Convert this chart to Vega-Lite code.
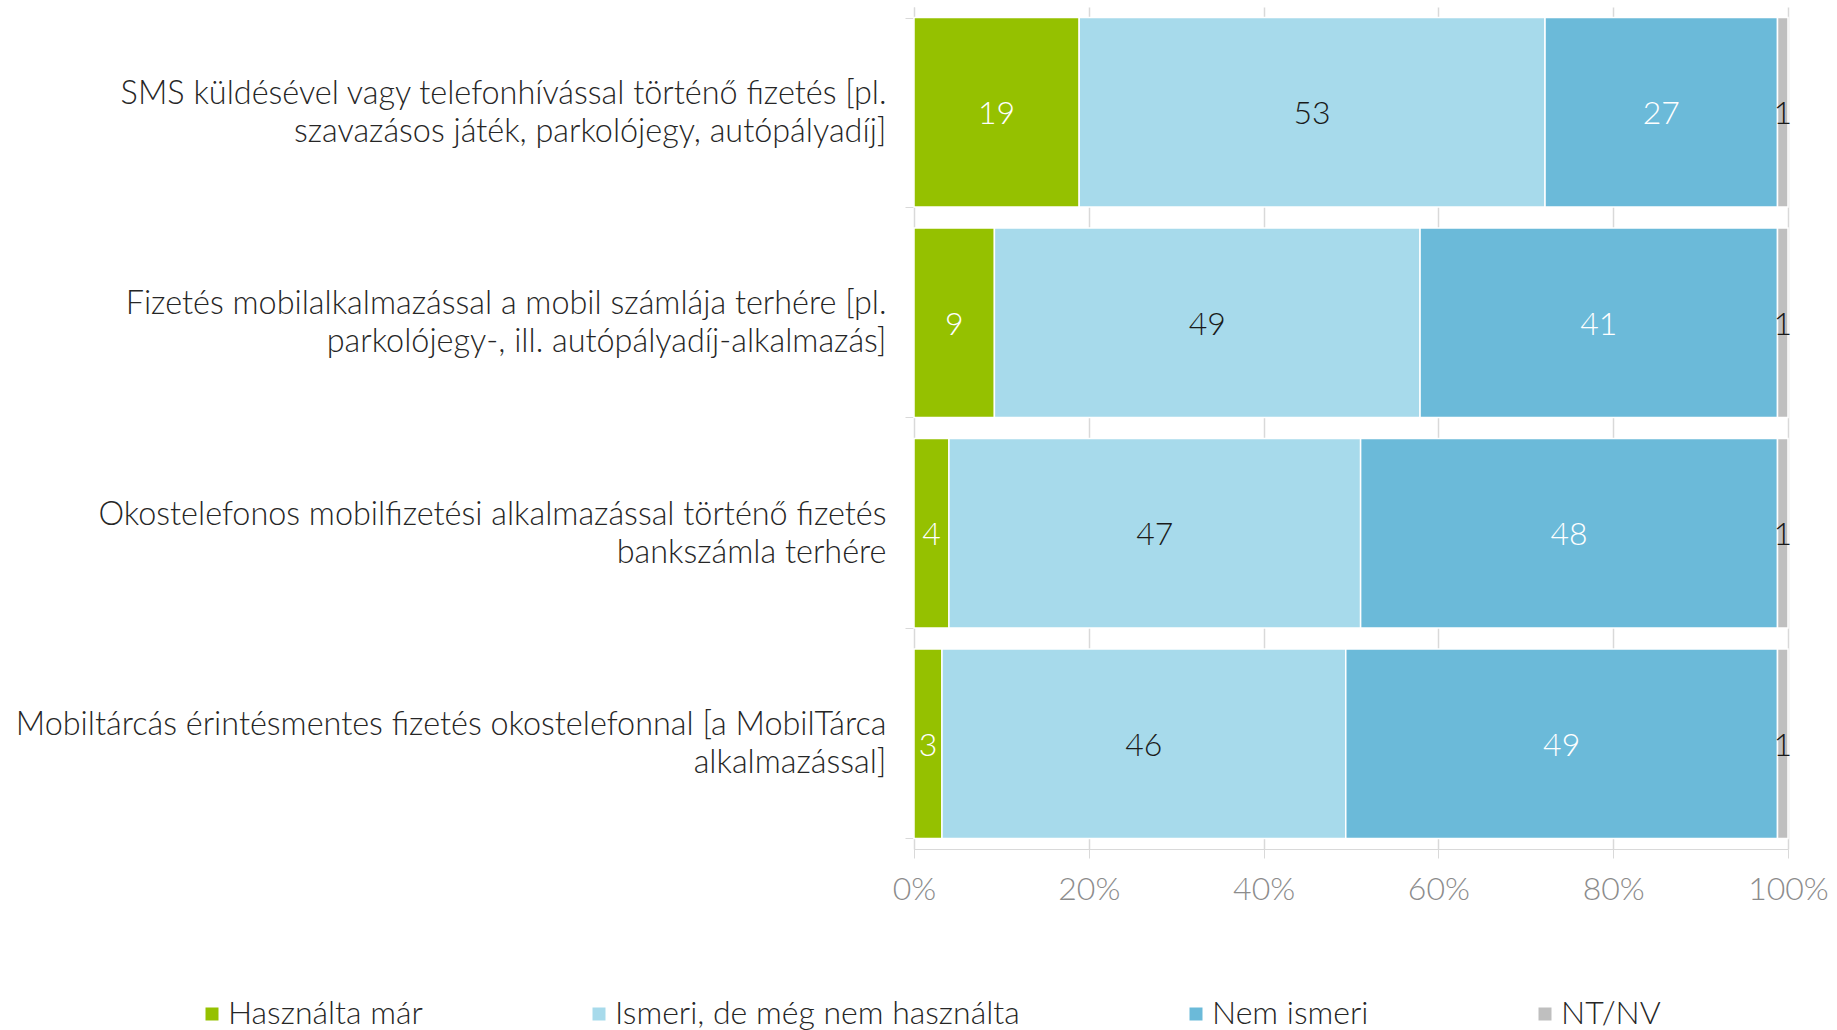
{
  "$schema": "https://vega.github.io/schema/vega-lite/v6.json",
  "width": 874,
  "height": 842,
  "autosize": {"type": "none"},
  "padding": {"left": 914, "top": 7, "right": 49, "bottom": 181},
  "background": "white",
  "config": {"font": "Lato", "view": {"stroke": null}},
  "data": {
    "values": [
      {"q": "SMS küldésével vagy telefonhívással történő fizetés [pl.|szavazásos játék, parkolójegy, autópályadíj]", "cat": "Használta már", "k": 1, "v": 18.9},
      {"q": "SMS küldésével vagy telefonhívással történő fizetés [pl.|szavazásos játék, parkolójegy, autópályadíj]", "cat": "Ismeri, de még nem használta", "k": 2, "v": 53.3},
      {"q": "SMS küldésével vagy telefonhívással történő fizetés [pl.|szavazásos játék, parkolójegy, autópályadíj]", "cat": "Nem ismeri", "k": 3, "v": 26.6},
      {"q": "SMS küldésével vagy telefonhívással történő fizetés [pl.|szavazásos játék, parkolójegy, autópályadíj]", "cat": "NT/NV", "k": 4, "v": 1.2},
      {"q": "Fizetés mobilalkalmazással a mobil számlája terhére [pl.|parkolójegy-, ill. autópályadíj-alkalmazás]", "cat": "Használta már", "k": 1, "v": 9.2},
      {"q": "Fizetés mobilalkalmazással a mobil számlája terhére [pl.|parkolójegy-, ill. autópályadíj-alkalmazás]", "cat": "Ismeri, de még nem használta", "k": 2, "v": 48.7},
      {"q": "Fizetés mobilalkalmazással a mobil számlája terhére [pl.|parkolójegy-, ill. autópályadíj-alkalmazás]", "cat": "Nem ismeri", "k": 3, "v": 40.9},
      {"q": "Fizetés mobilalkalmazással a mobil számlája terhére [pl.|parkolójegy-, ill. autópályadíj-alkalmazás]", "cat": "NT/NV", "k": 4, "v": 1.2},
      {"q": "Okostelefonos mobilfizetési alkalmazással történő fizetés|bankszámla terhére", "cat": "Használta már", "k": 1, "v": 4.0},
      {"q": "Okostelefonos mobilfizetési alkalmazással történő fizetés|bankszámla terhére", "cat": "Ismeri, de még nem használta", "k": 2, "v": 47.1},
      {"q": "Okostelefonos mobilfizetési alkalmazással történő fizetés|bankszámla terhére", "cat": "Nem ismeri", "k": 3, "v": 47.7},
      {"q": "Okostelefonos mobilfizetési alkalmazással történő fizetés|bankszámla terhére", "cat": "NT/NV", "k": 4, "v": 1.2},
      {"q": "Mobiltárcás érintésmentes fizetés okostelefonnal [a MobilTárca|alkalmazással]", "cat": "Használta már", "k": 1, "v": 3.2},
      {"q": "Mobiltárcás érintésmentes fizetés okostelefonnal [a MobilTárca|alkalmazással]", "cat": "Ismeri, de még nem használta", "k": 2, "v": 46.2},
      {"q": "Mobiltárcás érintésmentes fizetés okostelefonnal [a MobilTárca|alkalmazással]", "cat": "Nem ismeri", "k": 3, "v": 49.4},
      {"q": "Mobiltárcás érintésmentes fizetés okostelefonnal [a MobilTárca|alkalmazással]", "cat": "NT/NV", "k": 4, "v": 1.2}
    ]
  },
  "encoding": {
    "y": {
      "field": "q",
      "type": "nominal",
      "sort": null,
      "scale": {"paddingInner": 0.1, "paddingOuter": 0.05},
      "axis": {
        "title": null,
        "domainColor": "#d9d9d9",
        "tickColor": "#d9d9d9",
        "tickSize": 9,
        "tickBand": "extent",
        "labelFont": "Lato",
        "labelFontWeight": 300,
        "labelFontSize": 32.4,
        "labelColor": "#262626",
        "labelPadding": 19,
        "labelLimit": 1000,
        "labelLineHeight": 38,
        "labelOffset": -19,
        "labelExpr": "split(datum.label, '|')"
      }
    },
    "order": {"field": "k", "type": "quantitative"}
  },
  "layer": [
    {
      "mark": {"type": "bar", "stroke": "white", "strokeWidth": 1.5},
      "encoding": {
        "x": {
          "field": "v",
          "type": "quantitative",
          "stack": "zero",
          "scale": {"domain": [0, 100], "nice": false},
          "axis": {
            "title": null,
            "values": [0, 20, 40, 60, 80, 100],
            "labelExpr": "datum.value + '%'",
            "domainColor": "#d9d9d9",
            "tickColor": "#d9d9d9",
            "tickSize": 9,
            "grid": true,
            "gridColor": "#d9d9d9",
            "gridWidth": 1.5,
            "labelFont": "Lato",
            "labelFontWeight": 300,
            "labelFontSize": 32,
            "labelColor": "#8c8c8c",
            "labelPadding": 16,
            "labelFlush": false,
            "labelOverlap": false
          }
        },
        "color": {
          "field": "cat",
          "type": "nominal",
          "scale": {
            "domain": ["Használta már", "Ismeri, de még nem használta", "Nem ismeri", "NT/NV"],
            "range": ["#95c100", "#a7daeb", "#6bbad9", "#bfbfbf"]
          },
          "legend": {
            "title": null,
            "orient": "none",
            "legendX": -718,
            "legendY": 991,
            "direction": "horizontal",
            "columns": 4,
            "symbolType": "square",
            "symbolSize": 169,
            "symbolStrokeWidth": 0,
            "labelFont": "Lato",
            "labelFontWeight": 300,
            "labelFontSize": 32,
            "labelColor": "#262626",
            "labelOffset": 0,
            "labelLimit": 1000,
            "columnPadding": 160
          }
        }
      }
    },
    {
      "mark": {"type": "text", "font": "Lato", "fontWeight": 300, "fontSize": 32, "dy": 2},
      "encoding": {
        "x": {"field": "v", "type": "quantitative", "stack": "zero", "bandPosition": 0.5},
        "text": {"field": "v", "type": "quantitative", "format": ".0f"},
        "color": {
          "condition": {"test": "datum.cat === 'Használta már' || datum.cat === 'Nem ismeri'", "value": "#ffffff"},
          "value": "#1a1a1a"
        }
      }
    }
  ]
}
